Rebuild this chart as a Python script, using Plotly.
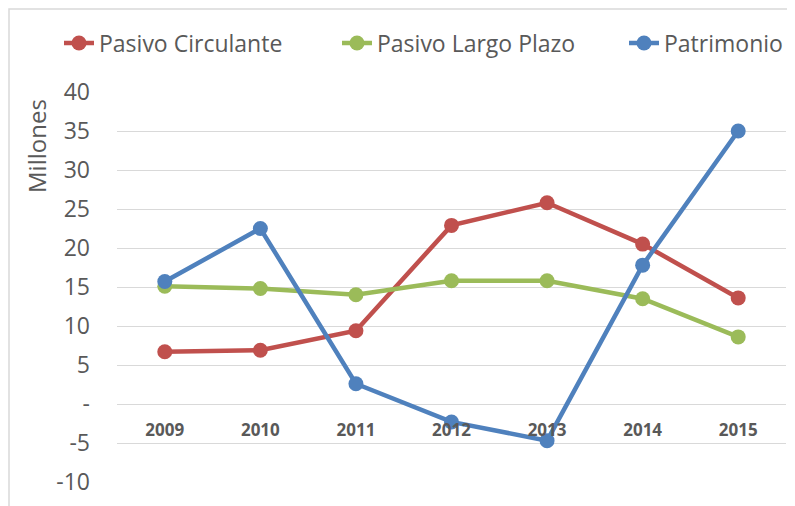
import plotly.graph_objects as go

years = ["2009", "2010", "2011", "2012", "2013", "2014", "2015"]
pasivo_circulante = [6.7, 6.9, 9.4, 22.9, 25.8, 20.5, 13.6]
pasivo_largo_plazo = [15.1, 14.8, 14.0, 15.8, 15.8, 13.5, 8.6]
patrimonio = [15.7, 22.5, 2.6, -2.3, -4.7, 17.8, 35.0]

y_tickvals = [-10, -5, 0, 5, 10, 15, 20, 25, 30, 35, 40]
y_ticktext = ["-10", "-5", "-", "5", "10", "15", "20", "25", "30", "35", "40"]

series = [
    ("Pasivo Circulante", pasivo_circulante, "#C0504D"),
    ("Pasivo Largo Plazo", pasivo_largo_plazo, "#9BBB59"),
    ("Patrimonio", patrimonio, "#4F81BD"),
]

FONT = "'Open Sans', Lato, 'DejaVu Sans', sans-serif"
GREY = "#595959"

OFF = 8  # page body margin
W, H = 795 - OFF, 506 - OFF
ml, mt = 117 - OFF, 92 - OFF
pw, ph = 669, 390
mr, mb = W - ml - pw, H - mt - ph


def px_x(x):
    return (x - OFF - ml) / pw


def px_y(y):
    return (mt + ph - (y - OFF)) / ph


legend_names = ["legend", "legend2", "legend3"]
legend_text_x = [100, 378, 665]

fig = go.Figure()
for (name, vals, col), lg in zip(series, legend_names):
    fig.add_trace(go.Scatter(
        x=years, y=vals, name=name, mode="lines+markers",
        line=dict(color=col, width=4.5),
        marker=dict(color=col, size=15),
        legend=lg,
    ))

legend_common = dict(
    orientation="h", xanchor="left",
    y=px_y(43), yanchor="middle",
    font=dict(size=23, color=GREY, family=FONT),
    bgcolor="rgba(0,0,0,0)", itemclick=False, itemdoubleclick=False,
)

layout_legends = {}
for lg, tx in zip(legend_names, legend_text_x):
    layout_legends[lg] = dict(legend_common, x=px_x(tx - 41))

fig.update_layout(
    width=W, height=H,
    margin=dict(l=ml, r=mr, t=mt, b=mb, autoexpand=False),
    paper_bgcolor="white", plot_bgcolor="white",
    font=dict(family=FONT, color=GREY, size=20),
    showlegend=True,
    **layout_legends,
    xaxis=dict(
        type="category", range=[-0.5, 6.5],
        anchor="free", position=10 / 50, automargin=False,
        showgrid=False, showline=False, zeroline=False,
        ticks="outside", ticklen=11, tickcolor="rgba(0,0,0,0)",
        tickfont=dict(size=17, color=GREY, family=FONT, weight="bold"),
    ),
    yaxis=dict(
        range=[-10, 40], tickvals=y_tickvals, ticktext=y_ticktext,
        showgrid=True, gridcolor="#d9d9d9", gridwidth=1,
        zeroline=False, showline=False, automargin=False,
        ticks="", ticklabelstandoff=26,
        tickfont=dict(size=23, color=GREY, family=FONT),
    ),
    shapes=[dict(
        type="rect", xref="paper", yref="paper", layer="below",
        x0=px_x(9), x1=px_x(820),
        y0=px_y(530), y1=px_y(9),
        line=dict(color="#d9d9d9", width=1.5),
    )],
    annotations=[dict(
        text="Millones", xref="paper", yref="paper",
        x=px_x(37), y=px_y(146),
        xanchor="center", yanchor="middle", textangle=-90,
        showarrow=False, font=dict(size=24, color=GREY, family=FONT),
    )],
)

fig.write_html("out.html")
